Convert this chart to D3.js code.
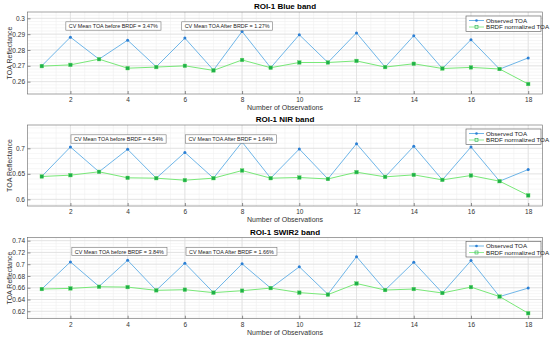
<!DOCTYPE html>
<html lang="en">
<head>
<meta charset="UTF-8">
<title>ROI-1 TOA</title>
<style>
  body { margin: 0; background: #fff; }
  text { font-family: "Liberation Sans", Arial, sans-serif; }
</style>
</head>
<body>
<script src="https://d3js.org/d3.v7.min.js"></script>
<script>
const obsNum = d3.range(1, 19);

const blueObserved = [0.2700, 0.2881, 0.2742, 0.2862, 0.2694, 0.2875, 0.2673, 0.2917, 0.2688,
                      0.2896, 0.2721, 0.2908, 0.2692, 0.2890, 0.2683, 0.2865, 0.2679, 0.2750];
const blueBrdf     = [0.2698, 0.2706, 0.2742, 0.2685, 0.2692, 0.2700, 0.2671, 0.2737, 0.2688,
                      0.2721, 0.2721, 0.2731, 0.2692, 0.2713, 0.2683, 0.2690, 0.2680, 0.2585];

const nirObserved = [0.6450, 0.7026, 0.6540, 0.6980, 0.6415, 0.6920, 0.6415, 0.7124, 0.6415,
                     0.6987, 0.6400, 0.7090, 0.6441, 0.7040, 0.6382, 0.7026, 0.6356, 0.6585];
const nirBrdf     = [0.6448, 0.6474, 0.6540, 0.6422, 0.6415, 0.6376, 0.6415, 0.6565, 0.6415,
                     0.6428, 0.6400, 0.6533, 0.6441, 0.6480, 0.6382, 0.6467, 0.6356, 0.6078];

const swirObserved = [0.6578, 0.7039, 0.6622, 0.7067, 0.6556, 0.7017, 0.6517, 0.7006, 0.6594,
                      0.6956, 0.6489, 0.7128, 0.6561, 0.7033, 0.6511, 0.7061, 0.6450, 0.6594];
const swirBrdf     = [0.6578, 0.6589, 0.6617, 0.6611, 0.6556, 0.6567, 0.6517, 0.6550, 0.6594,
                      0.6517, 0.6483, 0.6672, 0.6561, 0.6578, 0.6511, 0.6611, 0.6450, 0.6167];

const xTicks = [2, 4, 6, 8, 10, 12, 14, 16, 18];
const blueTicks = [0.26, 0.27, 0.28, 0.29, 0.3];
const nirTicks = [0.6, 0.65, 0.7];
const swirTicks = [0.62, 0.64, 0.66, 0.68, 0.7, 0.72, 0.74];

const seriesNames = ["Observed TOA", "BRDF normalized TOA"];

const panels = [
  { title: "ROI-1 Blue band", obs: blueObserved, brdf: blueBrdf, ticks: blueTicks,
    domain: [0.2522, 0.304], minor: 0.002, top: 12, bottom: 94,
    cvBefore: "CV Mean TOA before BRDF = 3.47%", cvAfter: "CV Mean TOA After BRDF = 1.27%", ann: [1.84, 5.89] },
  { title: "ROI-1 NIR band", obs: nirObserved, brdf: nirBrdf, ticks: nirTicks,
    domain: [0.587, 0.7457], minor: 0.01, top: 125, bottom: 206,
    cvBefore: "CV Mean TOA before BRDF = 4.54%", cvAfter: "CV Mean TOA After BRDF = 1.64%", ann: [2.02, 6.02] },
  { title: "ROI-1 SWIR2 band", obs: swirObserved, brdf: swirBrdf, ticks: swirTicks,
    domain: [0.6074, 0.7454], minor: 0.005, top: 237.5, bottom: 318.7,
    cvBefore: "CV Mean TOA before BRDF = 3.84%", cvAfter: "CV Mean TOA After BRDF = 1.66%", ann: [2.05, 6.04] }
];

const width = 550, height = 339;
const left = 27.5, right = 542.5;
const obsColor = "#4aa3e2", obsMark = "#2b7fd4";
const brdfColor = "#78e878", brdfMark = "#1fb04a";

const svg = d3.select("body").append("svg")
  .attr("width", width).attr("height", height);

const x = d3.scaleLinear().domain([0.5, 18.5]).range([left, right]);

panels.forEach(function(p) {
  const y = d3.scaleLinear().domain(p.domain).range([p.bottom, p.top]);
  const g = svg.append("g");

  // minor grid
  const xMinor = d3.range(1, 18.5, 0.5);
  g.selectAll(".xminor").data(xMinor).enter().append("line")
    .attr("x1", d => x(d)).attr("x2", d => x(d))
    .attr("y1", p.top).attr("y2", p.bottom)
    .attr("stroke", "#f0f0f0").attr("stroke-width", 0.6);
  const yMinor = d3.range(Math.ceil(p.domain[0] / p.minor) * p.minor, p.domain[1], p.minor);
  g.selectAll(".yminor").data(yMinor).enter().append("line")
    .attr("x1", left).attr("x2", right)
    .attr("y1", d => y(d)).attr("y2", d => y(d))
    .attr("stroke", "#f0f0f0").attr("stroke-width", 0.6);

  // major grid
  g.selectAll(".xgrid").data(xTicks).enter().append("line")
    .attr("x1", d => x(d)).attr("x2", d => x(d))
    .attr("y1", p.top).attr("y2", p.bottom)
    .attr("stroke", "#dcdcdc").attr("stroke-width", 0.7);
  g.selectAll(".ygrid").data(p.ticks).enter().append("line")
    .attr("x1", left).attr("x2", right)
    .attr("y1", d => y(d)).attr("y2", d => y(d))
    .attr("stroke", "#dcdcdc").attr("stroke-width", 0.7);

  // axes
  const xAxis = d3.axisBottom(x).tickValues(xTicks).tickSize(3).tickFormat(d3.format("d"));
  const yAxis = d3.axisLeft(y).tickValues(p.ticks).tickSize(3).tickFormat(d => String(+d.toFixed(3)));
  const gx = g.append("g").attr("transform", "translate(0," + p.bottom + ")").call(xAxis);
  const gy = g.append("g").attr("transform", "translate(" + left + ",0)").call(yAxis);
  [gx, gy].forEach(function(a) {
    a.select(".domain").remove();
    a.selectAll("line").attr("stroke", "#444").attr("stroke-width", 0.6);
    a.selectAll("text").attr("fill", "#333").style("font-size", "6.5px");
  });
  gx.selectAll(".tick line").attr("y2", -3);
  gx.selectAll(".tick text").attr("y", 3.5);
  gy.selectAll(".tick line").attr("x2", 3);
  gy.selectAll(".tick text").attr("x", -2.5);

  g.append("rect")
    .attr("x", left).attr("y", p.top)
    .attr("width", right - left).attr("height", p.bottom - p.top)
    .attr("fill", "none").attr("stroke", "#666").attr("stroke-width", 0.6);

  // title and labels
  g.append("text").attr("x", (left + right) / 2).attr("y", p.top - 3)
    .attr("text-anchor", "middle").style("font-size", "8px").style("font-weight", "bold")
    .text(p.title);
  g.append("text").attr("x", (left + right) / 2).attr("y", p.bottom + 16)
    .attr("text-anchor", "middle").style("font-size", "7px").attr("fill", "#333")
    .text("Number of Observations");
  g.append("text")
    .attr("transform", "translate(11.5," + ((p.top + p.bottom) / 2) + ") rotate(-90)")
    .attr("text-anchor", "middle").style("font-size", "7px").attr("fill", "#333")
    .text("TOA Reflectance");

  // lines
  const line = d3.line().x((d, i) => x(obsNum[i])).y(d => y(d));
  g.append("path").datum(p.obs).attr("d", line)
    .attr("fill", "none").attr("stroke", obsColor).attr("stroke-width", 0.8);
  g.append("path").datum(p.brdf).attr("d", line)
    .attr("fill", "none").attr("stroke", brdfColor).attr("stroke-width", 1);

  g.selectAll(".obsm").data(p.obs).enter().append("circle")
    .attr("cx", (d, i) => x(obsNum[i])).attr("cy", d => y(d))
    .attr("r", 1.5).attr("fill", obsMark);
  g.selectAll(".brdfm").data(p.brdf).enter().append("rect")
    .attr("x", (d, i) => x(obsNum[i]) - 1.8).attr("y", d => y(d) - 1.8)
    .attr("width", 3.6).attr("height", 3.6)
    .attr("fill", brdfMark).attr("stroke", "#5fd85f").attr("stroke-width", 0.4);

  // annotations
  [p.cvBefore, p.cvAfter].forEach(function(txt, k) {
    const tx = x(p.ann[k]);
    const ty = p.top + 16;
    const box = g.append("rect");
    const t = g.append("text").attr("x", tx + 3).attr("y", ty)
      .style("font-size", "5.4px").attr("fill", "#222").text(txt);
    const bb = t.node().getBBox();
    box.attr("x", tx).attr("y", bb.y - 1.2)
      .attr("width", bb.width + 6).attr("height", bb.height + 2.4)
      .attr("fill", "#fff").attr("stroke", "#777").attr("stroke-width", 0.6);
  });

  // legend
  const lx = 466, ly = p.top + 4, lw = 75, lh = 15.5;
  const lg = g.append("g");
  lg.append("rect").attr("x", lx).attr("y", ly).attr("width", lw).attr("height", lh)
    .attr("fill", "#fff").attr("stroke", "#555").attr("stroke-width", 0.6);
  seriesNames.forEach(function(name, k) {
    const yy = ly + 4.5 + k * 6.5;
    lg.append("line").attr("x1", lx + 3).attr("x2", lx + 18).attr("y1", yy).attr("y2", yy)
      .attr("stroke", k === 0 ? obsColor : brdfColor).attr("stroke-width", 0.8);
    if (k === 0) {
      lg.append("circle").attr("cx", lx + 10.5).attr("cy", yy).attr("r", 1.3).attr("fill", obsMark);
    } else {
      lg.append("rect").attr("x", lx + 9).attr("y", yy - 1.5).attr("width", 3).attr("height", 3)
        .attr("fill", "none").attr("stroke", brdfMark).attr("stroke-width", 0.6);
    }
    lg.append("text").attr("x", lx + 20).attr("y", yy + 2.1)
      .style("font-size", "6.2px").attr("fill", "#222").text(name);
  });
});
</script>
</body>
</html>
